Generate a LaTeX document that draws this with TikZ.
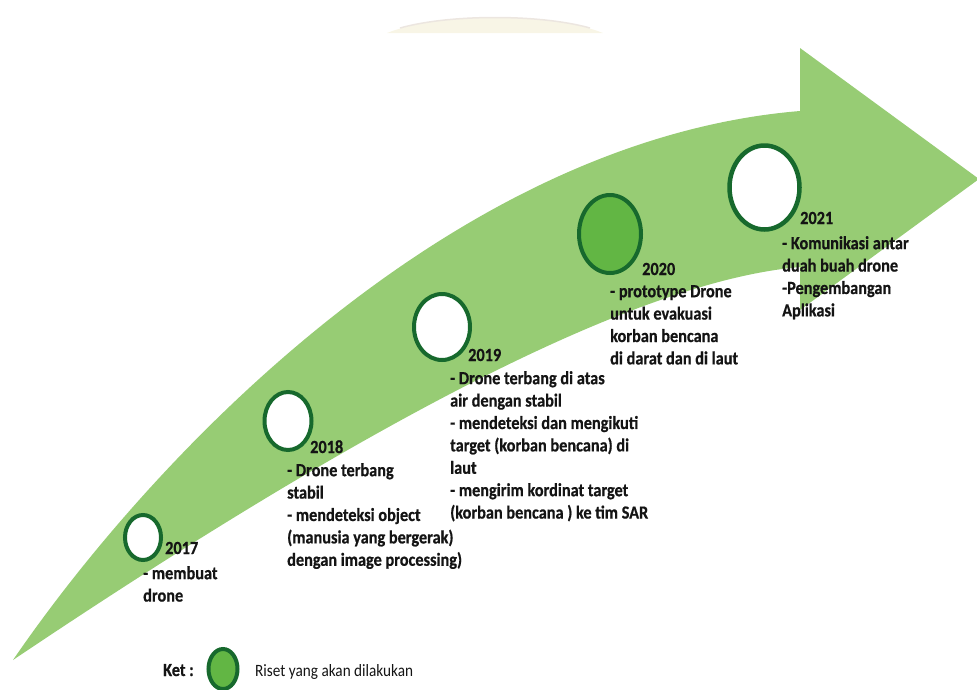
\documentclass[tikz,border=0pt]{standalone}
\usepackage{fontspec}
\setmainfont{Carlito}[FakeStretch=0.88, BoldFeatures={FakeBold=0.6}]
\usetikzlibrary{shapes.geometric}
\definecolor{arrowgreen}{HTML}{97CC74}
\definecolor{ringgreen}{HTML}{17692D}
\definecolor{dotgreen}{HTML}{62B644}
\definecolor{inkgray}{HTML}{141414}
\definecolor{faintcream}{HTML}{F8F5E6}
\definecolor{faintedge}{HTML}{ECE6E0}
\tikzset{
  ring/.style={ellipse, draw=ringgreen, line width=4pt, fill=white, inner sep=0pt},
  yearlabel/.style={anchor=base west, inner sep=0pt, text=inkgray,
    font=\bfseries\fontsize{18.5}{22.4}\selectfont},
  notes/.style={anchor=north west, align=left, inner sep=0pt, text=inkgray,
    font=\bfseries\fontsize{18.5}{22.4}\selectfont},
}
\begin{document}
\begin{tikzpicture}[x=1pt,y=-1pt]
\useasboundingbox (0,0) rectangle (977,689);

% faint lens-shaped mark at the top
\fill[faintcream] (387,33) .. controls (440,12) and (550,12) .. (603,33) -- cycle;
\draw[faintedge, line width=1.5pt] (400,28) .. controls (450,14) and (540,14) .. (590,28);

% curved timeline arrow
\fill[arrowgreen]
  (13,660) .. controls (150,460) and (450,140) .. (800,111)
  -- (800,48) -- (979,179) -- (800,310) -- (800,267)
  .. controls (650,280) and (400,400) .. (13,660)
  -- cycle;

% milestones
\node[ring, minimum width=36pt, minimum height=45pt] (c2017) at (143,537.5) {};
\node[ring, minimum width=47pt, minimum height=58pt] (c2018) at (288,421) {};
\node[ring, minimum width=56pt, minimum height=66pt] (c2019) at (442,327) {};
\node[ring, minimum width=62pt, minimum height=78pt, fill=dotgreen] (c2020) at (610,234) {};
\node[ring, line width=4.5pt, minimum width=70pt, minimum height=84pt] (c2021) at (764.5,187.5) {};

% year labels
\node[yearlabel] (y2017) at (165,554) {2017};
\node[yearlabel] (y2018) at (310,453) {2018};
\node[yearlabel] (y2019) at (468,361) {2019};
\node[yearlabel] (y2020) at (642,275) {2020};
\node[yearlabel] (y2021) at (800,224) {2021};

% descriptions
\node[notes] (n2017) at (143,566) {- membuat\\drone};
\node[notes] (n2018) at (287,463) {- Drone terbang\\stabil\\- mendeteksi object\\(manusia yang bergerak)\\dengan image processing)};
\node[notes] (n2019) at (450,371) {- Drone terbang di atas\\air dengan stabil\\- mendeteksi dan mengikuti\\target (korban bencana) di\\laut\\- mengirim kordinat target\\(korban bencana ) ke tim SAR};
\node[notes] (n2020) at (610,285) {- prototype Drone\\untuk evakuasi\\korban bencana\\di darat dan di laut};
\node[notes] (n2021) at (782,236) {- Komunikasi antar\\duah buah drone\\-Pengembangan\\Aplikasi};

% legend
\node[yearlabel] (ket) at (163,676) {Ket :};
\node[ring, fill=dotgreen, minimum width=29pt, minimum height=40pt] (legdot) at (223,669) {};
\node[yearlabel, font=\fontsize{17.3}{22.4}\selectfont] (legtext) at (255,676) {Riset yang akan dilakukan};
\end{tikzpicture}
\end{document}
